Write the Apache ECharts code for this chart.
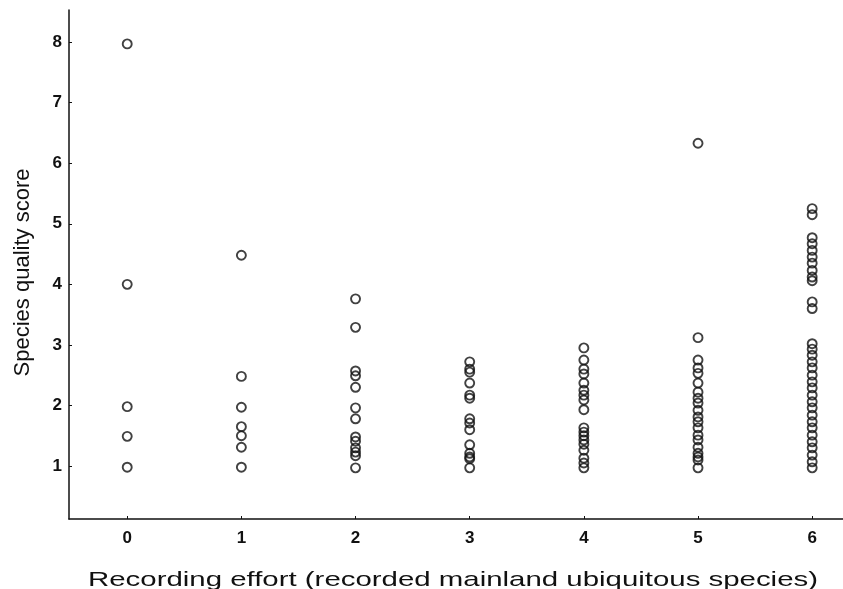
<!DOCTYPE html>
<html lang="en">
<head>
    <meta charset="UTF-8">
    <title>Species quality score vs recording effort</title>
    <script src="https://cdn.jsdelivr.net/npm/echarts@6/dist/echarts.min.js"></script>
    <style>
        html, body { margin: 0; padding: 0; background: #fff; }
        #chart { width: 843px; height: 589px; }
    </style>
</head>
<body>
<div id="chart"></div>
<script>
    // recording effort categories and the scores
    var effort = [0, 1, 2, 3, 4, 5, 6];
    var score0 = [7.97, 4.0, 1.98, 1.49, 0.98];
    var score1 = [4.48, 2.48, 1.97, 1.65, 1.5, 1.31, 0.98];
    var score2 = [3.76, 3.29, 2.57, 2.49, 2.3, 1.96, 1.78, 1.48, 1.41, 1.3, 1.23, 1.17, 0.97];
    var score3 = [2.72, 2.6, 2.55, 2.37, 2.17, 2.12, 1.78, 1.71, 1.6, 1.35, 1.21, 1.15, 1.12, 0.97];
    var score4 = [2.95, 2.75, 2.6, 2.52, 2.37, 2.25, 2.17, 2.09, 1.93, 1.63, 1.56, 1.5, 1.43, 1.36, 1.26, 1.13, 1.05, 0.97];
    var score5 = [6.33, 3.12, 2.75, 2.62, 2.53, 2.37, 2.22, 2.12, 2.04, 1.92, 1.81, 1.73, 1.63, 1.51, 1.43, 1.31, 1.21, 1.15, 1.1, 0.97];
    var score6 = [5.25, 5.15, 4.77, 4.67, 4.56, 4.45, 4.35, 4.23, 4.12, 4.06, 3.71, 3.6, 3.02, 2.93, 2.83, 2.72, 2.62, 2.5, 2.39,
        2.29, 2.17, 2.06, 1.96, 1.84, 1.73, 1.63, 1.51, 1.4, 1.3, 1.18, 1.07, 0.97];
    var xTicks = [0, 1, 2, 3, 4, 5, 6];
    var yTicks = [1, 2, 3, 4, 5, 6, 7, 8];
    var xTitle = 'Recording effort (recorded mainland ubiquitous species)';
    var yTitle = 'Species quality score';

    var columns = [score0, score1, score2, score3, score4, score5, score6];
    var points = [];
    columns.forEach(function (col, i) {
        col.forEach(function (v) {
            points.push([effort[i], v]);
        });
    });

    var chart = echarts.init(document.getElementById('chart'));
    var axisFont = 'Liberation Sans, Arial, sans-serif';
    var option = {
        animation: false,
        backgroundColor: '#ffffff',
        grid: {
            left: 69,
            right: 0,
            top: 10,
            bottom: 70,
            outerBoundsMode: 'none'
        },
        // the scanned x title is stretched sideways, so it is drawn as a scaled text
        graphic: [
            {
                type: 'text',
                x: 453,
                y: 580,
                scaleX: 1.4,
                style: {
                    text: xTitle,
                    font: '21px Liberation Sans, Arial, sans-serif',
                    fill: '#111',
                    align: 'center',
                    verticalAlign: 'middle'
                }
            }
        ],
        xAxis: {
            type: 'value',
            min: -0.51,
            max: 6.27,
            splitLine: { show: false },
            axisLine: { onZero: false, lineStyle: { color: '#111', width: 1.5 } },
            axisTick: { customValues: xTicks, inside: true, length: 3, lineStyle: { color: '#111' } },
            axisLabel: {
                customValues: xTicks,
                margin: 11,
                fontFamily: axisFont,
                fontSize: 17,
                fontWeight: 'bold',
                color: '#111'
            }
        },
        yAxis: {
            type: 'value',
            min: 0.125,
            max: 8.53,
            name: yTitle,
            nameLocation: 'middle',
            nameGap: 35,
            nameTextStyle: { fontFamily: axisFont, fontSize: 22, color: '#111', padding: [0, 16, 0, 0] },
            splitLine: { show: false },
            axisLine: { show: true, onZero: false, lineStyle: { color: '#111', width: 1.5 } },
            axisTick: { customValues: yTicks, inside: true, length: 3, lineStyle: { color: '#111' } },
            axisLabel: {
                customValues: yTicks,
                margin: 7,
                fontFamily: axisFont,
                fontSize: 17,
                fontWeight: 'bold',
                color: '#111'
            }
        },
        series: [
            {
                name: 'score',
                type: 'scatter',
                symbol: 'circle',
                symbolSize: 9,
                itemStyle: {
                    color: 'rgba(255,255,255,0)',
                    borderColor: '#111',
                    borderWidth: 1.9
                },
                data: points
            }
        ]
    };
    chart.setOption(option);
</script>
</body>
</html>
